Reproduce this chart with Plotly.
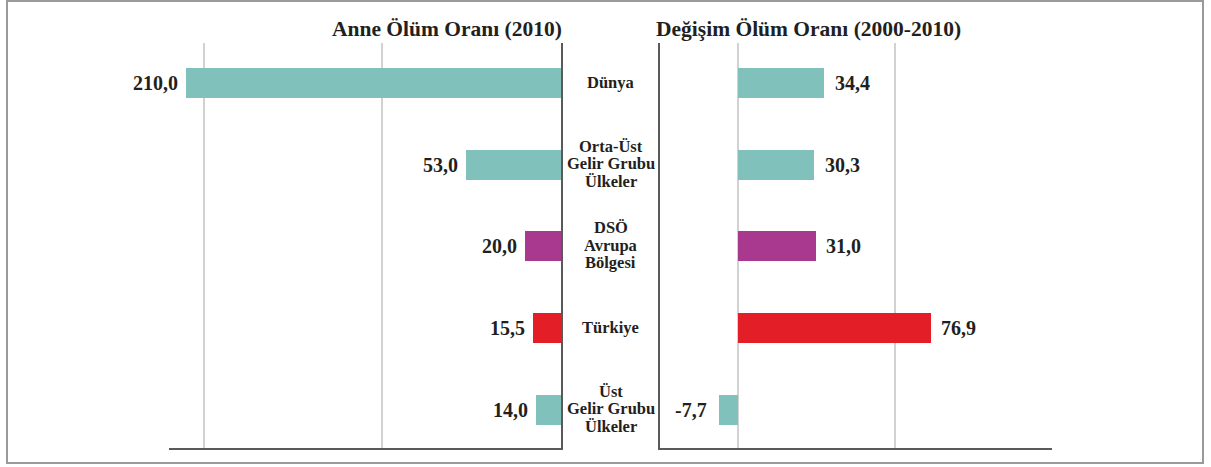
import plotly.graph_objects as go

# ---- data ----
categories = ["Dünya", "Orta-Üst Gelir Grubu Ülkeler", "DSÖ Avrupa Bölgesi", "Türkiye", "Üst Gelir Grubu Ülkeler"]
category_lines = [["Dünya"], ["Orta-Üst", "Gelir Grubu", "Ülkeler"], ["DSÖ", "Avrupa", "Bölgesi"], ["Türkiye"], ["Üst", "Gelir Grubu", "Ülkeler"]]
maternal_mortality_2010 = [210.0, 53.0, 20.0, 15.5, 14.0]
change_2000_2010 = [34.4, 30.3, 31.0, 76.9, -7.7]
bar_colors = ["#80c1bc", "#80c1bc", "#a8398f", "#e31e26", "#80c1bc"]
left_title = "Anne Ölüm Oranı (2010)"
right_title = "Değişim Ölüm Oranı (2000-2010)"

W, H = 1211, 467
TXT = "#231f20"
FONT = "Liberation Serif"
AXC = "#5a5a5a"
GRIDC = "#d2d2d2"

def fmt(v):
    return f"{v:.1f}".replace(".", ",")

def px_x(p):
    return p / W

def px_y(p):
    return 1 - p / H

ydom = [px_y(448), px_y(43)]
yrange = [4.469, -0.49]

fig = go.Figure()
fig.add_trace(go.Bar(x=maternal_mortality_2010, y=categories, orientation="h",
                     marker=dict(color=bar_colors, line=dict(width=0)), width=0.367,
                     xaxis="x", yaxis="y", hoverinfo="skip"))
fig.add_trace(go.Bar(x=change_2000_2010, y=categories, orientation="h",
                     marker=dict(color=bar_colors, line=dict(width=0)), width=0.367,
                     xaxis="x2", yaxis="y2", hoverinfo="skip"))

annotations = []
for c, v in zip(categories, maternal_mortality_2010):
    annotations.append(dict(xref="x", yref="y", x=v, y=c, text=fmt(v), showarrow=False,
                            xanchor="right", yanchor="middle", xshift=-6,
                            font=dict(family=FONT, size=20, color=TXT, weight="bold")))
for c, v in zip(categories, change_2000_2010):
    annotations.append(dict(xref="x2", yref="y2", x=v, y=c, text=fmt(v), showarrow=False,
                            xanchor="left" if v >= 0 else "right", yanchor="middle",
                            xshift=9 if v >= 0 else -10,
                            font=dict(family=FONT, size=20, color=TXT, weight="bold")))
for c, lines in zip(categories, category_lines):
    n = len(lines)
    for k, ln in enumerate(lines):
        annotations.append(dict(xref="paper", yref="y", x=px_x(610.5), y=c, text=ln, showarrow=False,
                                xanchor="center", yanchor="middle", yshift=((n - 1) / 2 - k) * 17.6 + 1,
                                font=dict(family=FONT, size=16.5, color=TXT, weight="bold")))
annotations.append(dict(xref="paper", yref="paper", x=px_x(564), y=px_y(29), text=left_title,
                        showarrow=False, xanchor="right", yanchor="middle",
                        font=dict(family=FONT, size=21.5, color=TXT, weight="bold")))
annotations.append(dict(xref="paper", yref="paper", x=px_x(654), y=px_y(29), text=right_title,
                        showarrow=False, xanchor="left", yanchor="middle",
                        font=dict(family=FONT, size=21.5, color=TXT, weight="bold")))

fig.update_layout(
    width=W, height=H,
    margin=dict(l=0, r=0, t=0, b=0),
    paper_bgcolor="white", plot_bgcolor="white",
    showlegend=False,
    bargap=0,
    xaxis=dict(domain=[px_x(169), px_x(561)], range=[219.5, 0], tickvals=[100, 200],
               showticklabels=False, ticks="", showgrid=True, gridcolor=GRIDC, gridwidth=1.5,
               zeroline=False, showline=True, linecolor=AXC, linewidth=2, anchor="y", fixedrange=True),
    yaxis=dict(domain=ydom, type="category", categoryorder="array", categoryarray=categories,
               range=yrange, showticklabels=False, ticks="", showgrid=False, zeroline=False,
               showline=True, linecolor=AXC, linewidth=2, side="right", anchor="x", fixedrange=True),
    xaxis2=dict(domain=[px_x(659.5), px_x(1052)], range=[-31.3, 125.7], tickvals=[0, 62.9],
                showticklabels=False, ticks="", showgrid=True, gridcolor=GRIDC, gridwidth=1.5,
                zeroline=False, showline=True, linecolor=AXC, linewidth=2, anchor="y2", fixedrange=True),
    yaxis2=dict(domain=ydom, type="category", categoryorder="array", categoryarray=categories,
                range=yrange, showticklabels=False, ticks="", showgrid=False, zeroline=False,
                showline=True, linecolor=AXC, linewidth=2, side="left", anchor="x2", fixedrange=True),
    annotations=annotations,
    shapes=[dict(type="rect", xref="paper", yref="paper",
                 x0=px_x(7), x1=px_x(1203), y0=px_y(463), y1=px_y(1),
                 line=dict(color="#9a9a9a", width=2), fillcolor="rgba(0,0,0,0)", layer="below")],
)

fig.write_html("out.html", config={"displayModeBar": False},
               post_script="document.body.style.margin='0';document.body.style.overflow='hidden';")
